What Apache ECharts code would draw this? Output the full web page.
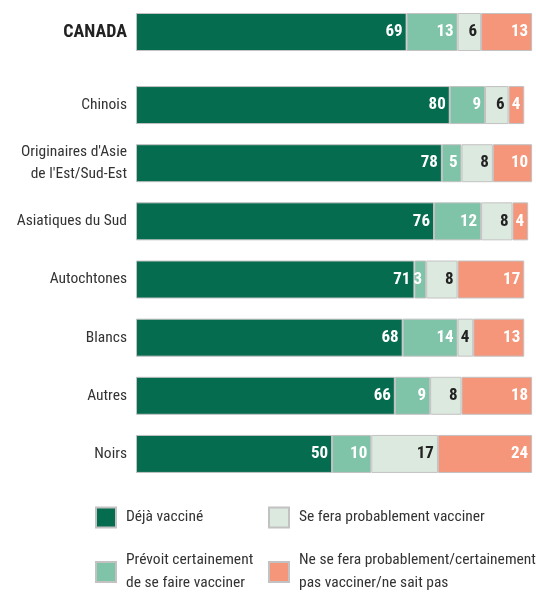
<!DOCTYPE html>
<html>
<head>
<meta charset="utf-8">
<script src="https://cdn.jsdelivr.net/npm/echarts@6/dist/echarts.min.js"></script>
<style>
  html, body { margin: 0; padding: 0; background: #fff; }
  #chart { width: 536px; height: 594px; }
</style>
</head>
<body>
<div id="chart"></div>
<script>
// National total, shown on its own above the groups
const totalCategory = ['CANADA'];
const totalValues = [69, 13, 6, 13];

// Population groups
const categories = [
  'Chinois',
  "Originaires d'Asie\nde l'Est/Sud-Est",
  'Asiatiques du Sud',
  'Autochtones',
  'Blancs',
  'Autres',
  'Noirs'
];
const dejaVaccine = [80, 78, 76, 71, 68, 66, 50];
const prevoitVacciner = [9, 5, 12, 3, 14, 9, 10];
const probablementVacciner = [6, 8, 8, 8, 4, 8, 17];
const pasVacciner = [4, 10, 4, 17, 13, 18, 24];

const seriesNames = [
  'Déjà vacciné',
  'Prévoit certainement\nde se faire vacciner',
  'Se fera probablement vacciner',
  'Ne se fera probablement/certainement\npas vacciner/ne sait pas'
];
const colors = ['#066c4f', '#7fc3a8', '#dce9df', '#f5967a'];
const labelColors = ['#ffffff', '#ffffff', '#222222', '#ffffff'];
const groupData = [dejaVaccine, prevoitVacciner, probablementVacciner, pasVacciner];

const FONT = "'Roboto Condensed', 'Liberation Sans Narrow', sans-serif";

function makeSeries(i, data, gridIndex) {
  return {
    name: seriesNames[i],
    type: 'bar',
    stack: 'g' + gridIndex,
    xAxisIndex: gridIndex,
    yAxisIndex: gridIndex,
    data: data,
    barWidth: 38,
    clip: false,
    itemStyle: { color: colors[i], borderColor: '#c2c2c2', borderWidth: 1 },
    label: {
      show: true,
      position: 'insideRight',
      distance: 4,
      color: labelColors[i],
      fontFamily: FONT,
      fontWeight: 'bold',
      fontSize: 17
    },
    emphasis: { disabled: true }
  };
}

const series = [];
for (let i = 0; i < 4; i++) series.push(makeSeries(i, [totalValues[i]], 0));
for (let i = 0; i < 4; i++) series.push(makeSeries(i, groupData[i], 1));

function xAxis(gridIndex) {
  return {
    type: 'value', gridIndex: gridIndex, min: 0, max: 102,
    show: false
  };
}
function yAxis(gridIndex, data, labelStyle) {
  return {
    type: 'category', gridIndex: gridIndex, data: data, inverse: true,
    axisLine: { show: false }, axisTick: { show: false },
    axisLabel: Object.assign({
      margin: 9, fontFamily: FONT, fontSize: 15.5, color: '#333', lineHeight: 22
    }, labelStyle)
  };
}

function legendItem(name, left, top) {
  return {
    data: [name],
    left: left, top: top,
    padding: 0,
    icon: 'rect',
    itemWidth: 20, itemHeight: 20,
    itemGap: 0,
    selectedMode: false,
    textStyle: {
      fontFamily: FONT, fontSize: 15.5, color: '#333',
      lineHeight: 23, padding: [0, 0, 0, 5]
    }
  };
}

const chart = echarts.init(document.getElementById('chart'), null, { renderer: 'canvas' });
chart.setOption({
  animation: false,
  grid: [
    { left: 136, right: 0, top: 3, height: 58, outerBoundsMode: 'none', containLabel: false },
    { left: 136, right: 0, top: 76, height: 407, outerBoundsMode: 'none', containLabel: false }
  ],
  xAxis: [xAxis(0), xAxis(1)],
  yAxis: [
    yAxis(0, totalCategory, { fontWeight: 'bold', fontSize: 18, color: '#222' }),
    yAxis(1, categories, {})
  ],
  legend: [
    legendItem(seriesNames[0], 95, 506),
    legendItem(seriesNames[2], 268, 506),
    legendItem(seriesNames[1], 95, 549),
    legendItem(seriesNames[3], 268, 549)
  ],
  series: series
});
</script>
</body>
</html>
